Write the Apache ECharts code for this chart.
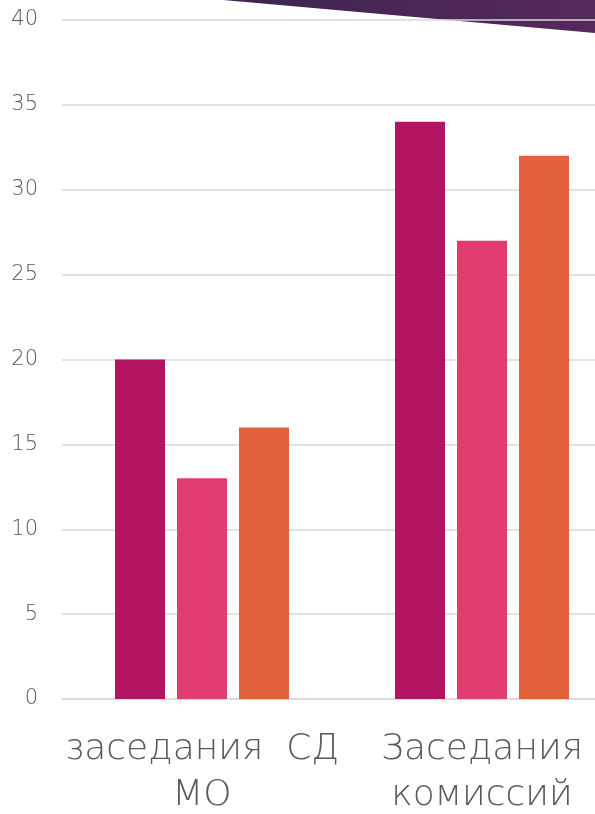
<!DOCTYPE html>
<html><head><meta charset="utf-8">
<script src="https://cdn.jsdelivr.net/npm/echarts@6/dist/echarts.min.js"></script>
<style>html,body{margin:0;padding:0;background:#fff}#c{width:595px;height:814px}</style>
</head><body><div id="c"></div>
<script>
const categories = ['заседания  СД\nМО', 'Заседания\nкомиссий'];
const series1 = [20, 34];
const series2 = [13, 27];
const series3 = [16, 32];
const yTicks = { min: 0, max: 40, interval: 5 };

const chart = echarts.init(document.getElementById('c'));
const font = '"DejaVu Sans ExtraLight", "DejaVu Sans", sans-serif';
chart.setOption({
  animation: false,
  graphic: [{
    type: 'polygon', z: -10, silent: true,
    shape: { points: [[223, 0], [595, 0], [595, 33]] },
    style: { fill: new echarts.graphic.LinearGradient(0, 0, 1, 0, [
      { offset: 0, color: '#3C2550' }, { offset: 1, color: '#55285B' }]) }
  }],
  grid: { left: 62, width: 560, top: 20, bottom: 115, containLabel: false, outerBoundsMode: 'none' },
  xAxis: {
    type: 'category', data: categories,
    axisLine: { show: true, lineStyle: { color: '#D9D9D9', width: 1.5 } },
    axisTick: { show: false },
    axisLabel: { show: true, interval: 0, margin: 28, color: '#595959', fontSize: 36,
      fontWeight: 200, fontFamily: font, lineHeight: 46, verticalAlign: 'top', hideOverlap: false }
  },
  yAxis: {
    type: 'value', min: yTicks.min, max: yTicks.max, interval: yTicks.interval,
    axisLine: { show: false }, axisTick: { show: false },
    splitLine: { lineStyle: { color: '#D9D9D9', width: 1.5 } },
    axisLabel: { color: '#595959', fontSize: 21, fontWeight: 200, fontFamily: font, align: 'right', margin: 24 }
  },
  series: [
    { type: 'bar', data: series1, itemStyle: { color: '#B31462' }, barWidth: 50, barGap: '24%' },
    { type: 'bar', data: series2, itemStyle: { color: '#E33D70' }, barWidth: 50, barGap: '24%' },
    { type: 'bar', data: series3, itemStyle: { color: '#E2603C' }, barWidth: 50, barGap: '24%' }
  ]
});
</script></body></html>
